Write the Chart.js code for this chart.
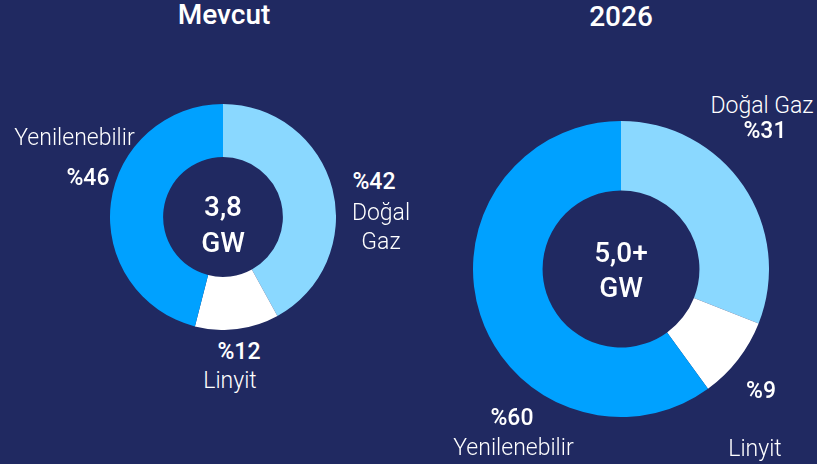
<!DOCTYPE html>
<html>
<head>
<meta charset="utf-8">
<script src="https://cdn.jsdelivr.net/npm/chart.js@4/dist/chart.umd.min.js"></script>
<style>
  html, body { margin: 0; padding: 0; }
  body { width: 817px; height: 464px; background: #202961; position: relative; overflow: hidden;
         font-family: Roboto, "Noto Sans", "DejaVu Sans", sans-serif; color: #fff; }
  canvas { position: absolute; }
  .t { position: absolute; transform: translate(-50%, -50%); white-space: nowrap; line-height: 1; text-align: center; }
  .title { font-size: 28px; font-family: "Roboto Medium", Roboto, sans-serif; font-weight: 500; }
  .pct { font-size: 23px; font-family: "Roboto Medium", Roboto, sans-serif; font-weight: 500; }
  .name { font-size: 23px; font-family: "Roboto Light", Roboto, sans-serif; font-weight: 300; }
  .center { font-size: 28px; font-family: "Roboto Medium", Roboto, sans-serif; font-weight: 500; }
</style>
</head>
<body>
<canvas id="c1" width="226" height="226" style="left:110px;top:104px;width:226px;height:226px"></canvas>
<canvas id="c2" width="296" height="296" style="left:473px;top:121px;width:296px;height:296px"></canvas>
<script>
// ---- data ----
const categories = ['Doğal Gaz', 'Linyit', 'Yenilenebilir'];
const currentShares = [42, 12, 46];
const futureShares = [31, 9, 60];
const chartTitles = ['Mevcut', '2026'];
const centerValues = ['3,8', '5,0+'];
const centerUnit = 'GW';
const sliceColors = ['#8ad8ff', '#ffffff', '#00a1ff'];

function makeChart(id, values) {
  return new Chart(document.getElementById(id), {
    type: 'doughnut',
    data: {
      labels: categories,
      datasets: [{ data: values, backgroundColor: sliceColors, borderWidth: 0, hoverOffset: 0 }]
    },
    options: {
      responsive: false,
      animation: false,
      cutout: '53%',
      layout: { padding: 0 },
      plugins: { legend: { display: false }, tooltip: { enabled: false } }
    }
  });
}
makeChart('c1', currentShares);
makeChart('c2', futureShares);

// ---- text labels (layout) ----
function addText(cls, html, x, y, extra) {
  const d = document.createElement('div');
  d.className = 't ' + cls;
  d.innerHTML = html;
  d.style.left = x + 'px';
  d.style.top = y + 'px';
  if (extra) Object.assign(d.style, extra);
  document.body.appendChild(d);
}
// titles
addText('title', chartTitles[0], 224, 15);
addText('title', chartTitles[1], 621, 17);
// centers
addText('center', centerValues[0], 223, 207);
addText('center', centerUnit, 223, 243);
addText('center', centerValues[1], 621, 253);
addText('center', centerUnit, 621, 288);
// left chart labels
addText('pct', '%' + currentShares[0], 374, 181);
addText('name', categories[0].replace(' ', '<br>'), 381, 226.5, { lineHeight: '29px' });
addText('pct', '%' + currentShares[1], 239, 351);
addText('name', categories[1], 230, 380);
addText('pct', '%' + currentShares[2], 88, 177);
addText('name', categories[2], 74.5, 137);
// right chart labels
addText('name', categories[0], 762, 105);
addText('pct', '%' + futureShares[0], 765, 130);
addText('pct', '%' + futureShares[1], 761, 390);
addText('name', categories[1], 755, 448);
addText('pct', '%' + futureShares[2], 512, 417);
addText('name', categories[2], 513.5, 447);
</script>
</body>
</html>
